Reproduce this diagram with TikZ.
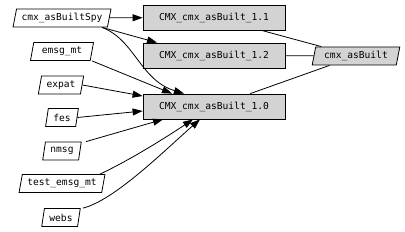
\documentclass[tikz,border=0pt]{standalone}
\usepackage{fontspec}
\setmonofont{DejaVu Sans Mono}
\usetikzlibrary{shapes.geometric,arrows.meta}
\begin{document}
\begin{tikzpicture}[x=1pt,y=-1pt,
  lbl/.style={font=\ttfamily\fontsize{9.6}{11}\selectfont},
  lib/.style={lbl, draw, line width=0.8pt, fill=white, trapezium, trapezium left angle=70,
    trapezium right angle=110, trapezium stretches=true, minimum height=18pt,
    inner xsep=5pt, inner ysep=0pt},
  ver/.style={lbl, draw, line width=0.8pt, fill=boxgray, minimum width=142pt,
    minimum height=25pt, inner sep=0pt},
  dep/.style={line width=0.8pt, -{Triangle[length=10pt,width=7pt]}},
  lnk/.style={line width=0.8pt}]
\definecolor{boxgray}{RGB}{211,211,211}
\useasboundingbox (0,0) rectangle (405,232);
% left nodes
\node[lib] (spy)  at (62,18)    {cmx\_asBuiltSpy};
\node[lib, inner xsep=8pt] (emsg) at (62,51.5)  {emsg\_mt};
\node[lib] (expat) at (61,85)   {expat};
\node[lib] (fes)  at (62,117.5) {fes};
\node[lib] (nmsg) at (62,151)   {nmsg};
\node[lib] (test) at (62,183.5) {test\_emsg\_mt};
\node[lib] (webs) at (61,217.5) {webs};
% version boxes
\node[ver] (b11) at (214,17.5)  {CMX\_cmx\_asBuilt\_1.1};
\node[ver] (b12) at (214,55.5)  {CMX\_cmx\_asBuilt\_1.2};
\node[ver] (b10) at (214,106.5) {CMX\_cmx\_asBuilt\_1.0};
% right node
\node[lib, fill=boxgray, inner xsep=8.5pt] (cab) at (356,56) {cmx\_asBuilt};
% links to cmx_asBuilt
\draw[lnk] (b11) -- (cab);
\draw[lnk] (b12) -- (cab);
\draw[lnk] (b10) -- (cab);
% dependency arrows
\draw[dep] (spy) -- (b11);
\draw[dep] ([xshift=40pt]spy.south) -- ([xshift=-57pt]b12.north);
\draw[dep] ([xshift=40pt]spy.south) .. controls (135,40) and (140,80) .. ([xshift=-30pt]b10.north);
\draw[dep] ([xshift=30pt]emsg.south) -- ([xshift=-42pt]b10.north);
\draw[dep] (expat.east) -- ([yshift=10.5pt]b10.west);
\draw[dep] (fes.east) -- ([yshift=-4.5pt]b10.west);
\draw[dep] ([xshift=24pt]nmsg.north) -- ([xshift=-51pt]b10.south);
\draw[dep] ([xshift=38pt]test.north) .. controls (130,160) and (165,138) .. ([xshift=-21pt]b10.south);
\draw[dep] ([xshift=22pt]webs.north) .. controls (115,200) and (165,150) .. ([xshift=-14pt]b10.south);
\end{tikzpicture}
\end{document}
